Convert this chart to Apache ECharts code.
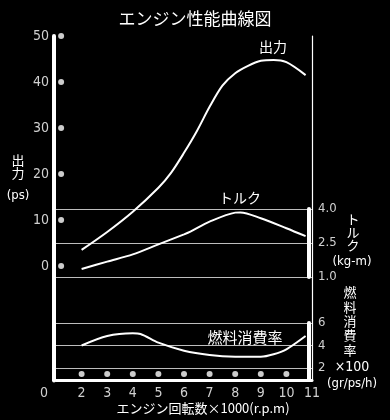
<!DOCTYPE html>
<html><head><meta charset="utf-8">
<script src="https://cdn.jsdelivr.net/npm/echarts@6/dist/echarts.min.js"></script>
<style>html,body{margin:0;padding:0;background:#000;}#c{width:390px;height:420px;}</style>
</head><body><div id="c"></div>
<script>
// ---- data ----
const rpmTicks = [1,2,3,4,5,6,7,8,9,10,11];
const powerTicks = [0,10,20,30,40,50];
const torqueTicks = [1.0,2.5,4.0];
const fuelTicks = [2,4,6];
const dotRpm = [2,3,4,5,6,7,8,9,10];

const powerRpm = [2,3,4,5,5.5,6,6.5,7,7.5,8,8.5,9,9.5,10,10.75];
const powerPs  = [3.5,7.4,11.8,17,20.3,24.6,29.3,34.6,39.2,41.9,43.5,44.6,44.8,44.3,41.5];

const torqueRpm = [2,3,4,5,6,6.25,7,8,8.2,9,10,10.75];
const torqueKgm = [1.35,1.68,2.0,2.44,2.88,3.0,3.44,3.84,3.85,3.59,3.15,2.8];

const fuelRpm = [2,3,4,4.3,5,6,7,8,9,9.5,10,10.75];
const fuelVal = [4.0,4.84,5.08,5.02,4.25,3.54,3.16,3.01,3.0,3.22,3.66,4.84];

// ---- chart ----
const W = '#fff', G = '#d0d0d0', L = '#bdbdbd';
const NUMF = "'Liberation Sans Narrow','DejaVu Sans Condensed',Roboto,sans-serif";
const JPF = "'Noto Sans CJK JP',sans-serif";
const pair = (xs, ys) => xs.map((x,i)=>[x, ys[i]]);
const hiddenX = (gi) => ({type:'value', gridIndex:gi, min:1, max:11, show:false});

const chart = echarts.init(document.getElementById('c'));
chart.setOption({
  backgroundColor:'#000',
  animation:false,
  title:{text:'エンジン性能曲線図', left:'center', top:5,
    textStyle:{color:W, fontFamily:JPF, fontSize:17, fontWeight:'normal'}},
  grid:[
    {left:56, right:78, top:36, bottom:154},   // 0 power
    {left:56, right:78, top:209, bottom:143},  // 1 torque
    {left:56, right:78, top:323, bottom:52},   // 2 fuel
    {left:56, right:78, top:368, bottom:40},   // 3 dot band
    {left:56, right:78, top:36, bottom:39.5}   // 4 frame
  ],
  xAxis:[
    hiddenX(0), hiddenX(1), hiddenX(2), hiddenX(3),
    {type:'value', gridIndex:4, min:1, max:11, interval:1,
      axisLine:{show:true, lineStyle:{color:W, width:3}},
      axisTick:{show:false}, splitLine:{show:false},
      axisLabel:{color:G, fontSize:14, fontFamily:NUMF, margin:6,
        formatter:(v)=> v===1 ? '{z|0}' : String(v),
        rich:{z:{color:G, fontSize:14, fontFamily:NUMF, padding:[0,24,0,0]}}}}
  ],
  yAxis:[
    {type:'value', gridIndex:0, min:0, max:50, interval:10,
      axisLine:{show:false}, axisTick:{show:false}, splitLine:{show:false},
      axisLabel:{color:G, fontSize:14, fontFamily:NUMF, margin:7}},
    {type:'value', gridIndex:1, position:'right', min:1, max:4, interval:1.5, offset:-3,
      axisLine:{show:true, lineStyle:{color:W, width:4}}, axisTick:{show:false},
      splitLine:{show:true, lineStyle:{color:L, width:1}},
      axisLabel:{color:G, fontSize:13, fontFamily:NUMF, margin:9, formatter:(v)=>v.toFixed(1)}},
    {type:'value', gridIndex:2, position:'right', min:2, max:6, interval:2, offset:-3,
      axisLine:{show:true, lineStyle:{color:W, width:4}}, axisTick:{show:false},
      splitLine:{show:true, lineStyle:{color:L, width:1}},
      axisLabel:{color:G, fontSize:13, fontFamily:NUMF, margin:9}},
    {type:'value', gridIndex:3, position:'right', min:0, max:1, offset:-3,
      axisLine:{show:true, lineStyle:{color:W, width:4}}, axisTick:{show:false},
      splitLine:{show:false}, axisLabel:{show:false}},
    {type:'value', gridIndex:4, min:0, max:1, offset:2,
      axisLine:{show:true, lineStyle:{color:W, width:4}}, axisTick:{show:false},
      splitLine:{show:false}, axisLabel:{show:false}},
    {type:'value', gridIndex:4, position:'right', min:0, max:1, offset:0,
      axisLine:{show:true, lineStyle:{color:W, width:1.2}}, axisTick:{show:false},
      splitLine:{show:false}, axisLabel:{show:false}}
  ],
  series:[
    {type:'scatter', xAxisIndex:0, yAxisIndex:0, symbolSize:6, itemStyle:{color:W},
      data: powerTicks.map(p=>[1.2, p])},
    {type:'scatter', xAxisIndex:3, yAxisIndex:3, symbolSize:6, itemStyle:{color:W},
      data: dotRpm.map(r=>[r, 0.5])},
    {type:'line', xAxisIndex:0, yAxisIndex:0, smooth:0.3, showSymbol:false,
      lineStyle:{color:W, width:2}, data: pair(powerRpm, powerPs)},
    {type:'line', xAxisIndex:1, yAxisIndex:1, smooth:0.3, showSymbol:false,
      lineStyle:{color:W, width:2}, data: pair(torqueRpm, torqueKgm)},
    {type:'line', xAxisIndex:2, yAxisIndex:2, smooth:0.3, showSymbol:false,
      lineStyle:{color:W, width:2}, data: pair(fuelRpm, fuelVal)}
  ],
  graphic:[
    {type:'text', x:273, y:47, style:{text:'出力', fill:W, font:'14px '+JPF, align:'center', verticalAlign:'middle'}},
    {type:'text', x:240, y:198, style:{text:'トルク', fill:W, font:'14px '+JPF, align:'center', verticalAlign:'middle'}},
    {type:'text', x:245, y:337, style:{text:'燃料消費率', fill:W, font:'15px '+JPF, align:'center', verticalAlign:'middle'}},
    {type:'text', x:18, y:167, style:{text:'出\n力', fill:W, font:'13px '+JPF, lineHeight:13, align:'center', verticalAlign:'middle'}},
    {type:'text', x:18, y:196, style:{text:'(ps)', fill:W, font:'13px '+NUMF, align:'center', verticalAlign:'middle'}},
    {type:'text', x:353, y:232, style:{text:'ト\nル\nク', fill:W, font:'13px '+JPF, lineHeight:13, align:'center', verticalAlign:'middle'}},
    {type:'text', x:352, y:262, style:{text:'(kg-m)', fill:W, font:'13px '+NUMF, align:'center', verticalAlign:'middle'}},
    {type:'text', x:350, y:321, style:{text:'燃\n料\n消\n費\n率', fill:W, font:'13px '+JPF, lineHeight:14.4, align:'center', verticalAlign:'middle'}},
    {type:'text', x:352, y:367, style:{text:'×100', fill:W, font:'14px '+NUMF, align:'center', verticalAlign:'middle'}},
    {type:'text', x:352, y:384, style:{text:'(gr/ps/h)', fill:W, font:'13px '+NUMF, align:'center', verticalAlign:'middle'}},
    {type:'text', x:203, y:408, style:{text:'エンジン回転数×1000(r.p.m)', fill:W, font:'13px '+JPF, align:'center', verticalAlign:'middle'}}
  ]
});
</script></body></html>
